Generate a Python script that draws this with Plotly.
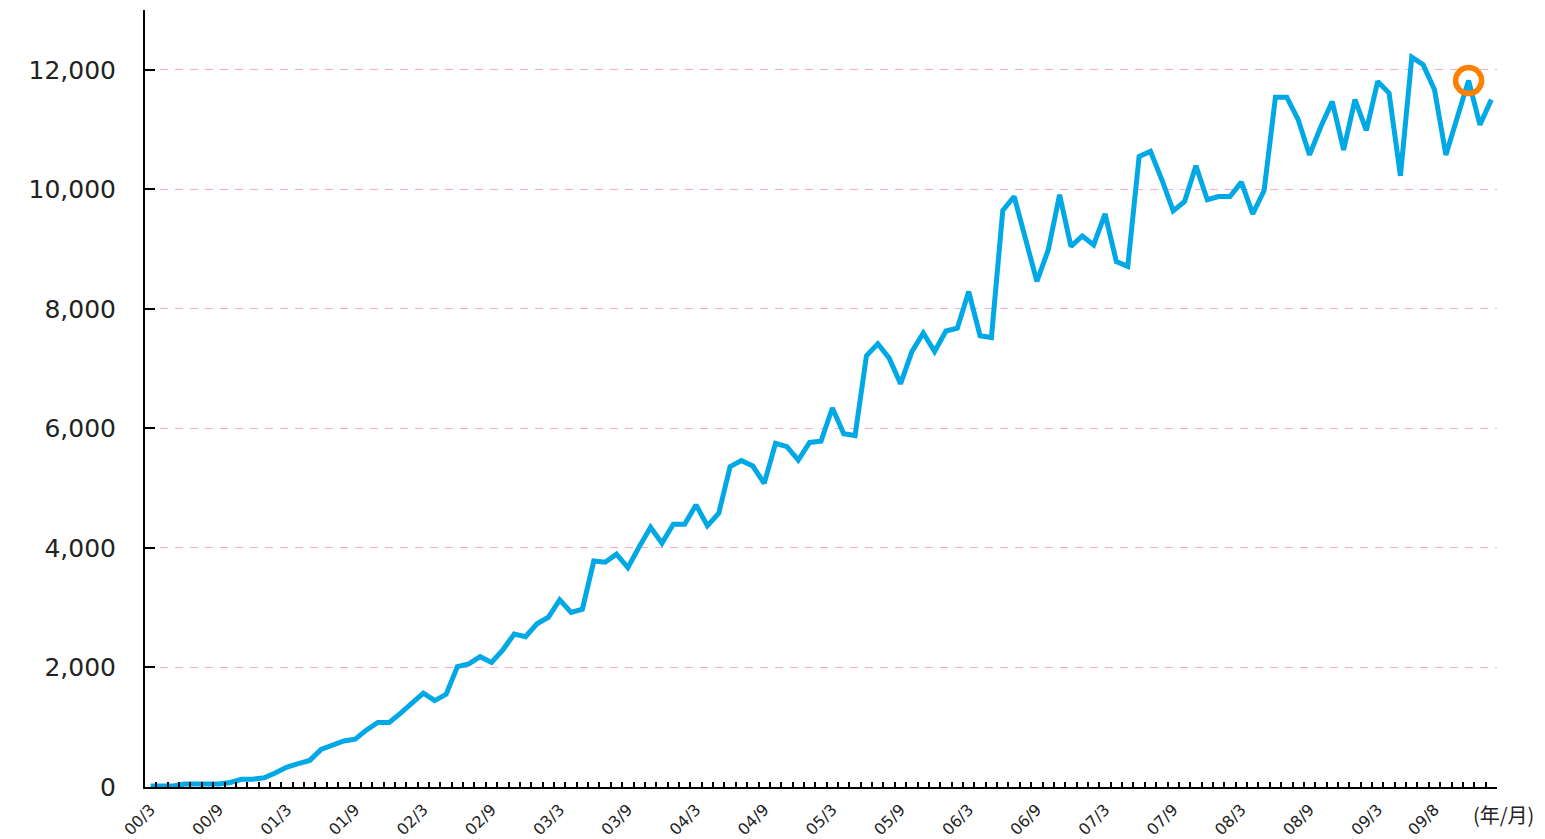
import plotly.graph_objects as go

# Monthly categories 2000/3 .. 2010/1 (labels in "YY/M" form)
months = [f"{(y % 100):02d}/{m}" for y in range(2000, 2011) for m in range(1, 13)]
months = months[months.index("00/3"):months.index("10/1") + 1]

values = [
    15, 15, 17, 50, 50, 50, 50, 75, 130, 130,
    155, 240, 335, 390, 445, 630, 710, 770, 800, 955,
    1080, 1080, 1235, 1410, 1570, 1445, 1550, 2015, 2060, 2180,
    2085, 2295, 2560, 2515, 2730, 2840, 3130, 2920, 2975, 3780,
    3760, 3895, 3670, 4020, 4345, 4080, 4395, 4395, 4720, 4370,
    4580, 5360, 5460, 5370, 5080, 5750, 5695, 5470, 5765, 5785,
    6340, 5910, 5880, 7215, 7415, 7175, 6745, 7285, 7595, 7285,
    7630, 7675, 8290, 7550, 7520, 9645, 9880, 9170, 8460, 8985,
    9910, 9045, 9220, 9070, 9590, 8790, 8710, 10550, 10635, 10160,
    9640, 9795, 10395, 9825, 9880, 9880, 10120, 9590, 9980, 11540,
    11540, 11165, 10575, 11050, 11470, 10660, 11500, 10985, 11805, 11610,
    10225, 12210, 12085, 11665, 10575, 11200, 11820, 11080, 11500,
]

tick_labels = ["00/3", "00/9", "01/3", "01/9", "02/3", "02/9", "03/3", "03/9",
               "04/3", "04/9", "05/3", "05/9", "06/3", "06/9", "07/3", "07/9",
               "08/3", "08/9", "09/3", "09/8"]

highlight_month = "09/11"
highlight_value = values[months.index(highlight_month)]

y_ticks = [0, 2000, 4000, 6000, 8000, 10000, 12000]

fig = go.Figure()
fig.add_trace(go.Scatter(
    x=months, y=values, mode="lines",
    line=dict(color="#00a8e6", width=5),
    hoverinfo="x+y",
))
fig.add_trace(go.Scatter(
    x=[highlight_month], y=[highlight_value], mode="markers",
    marker=dict(symbol="circle-open", size=26, color="#ff8000",
                line=dict(width=5.5, color="#ff8000")),
))

fig.update_layout(
    width=1545, height=839,
    margin=dict(l=145, r=48, t=10, b=52),
    plot_bgcolor="white", paper_bgcolor="white",
    showlegend=False,
    font=dict(family="DejaVu Sans", color="#222222"),
    annotations=[dict(
        text="(年/月)", xref="paper", yref="paper",
        x=0.981, y=-0.036, xanchor="left", yanchor="middle",
        showarrow=False,
        font=dict(family="Noto Sans CJK JP", size=20, color="#222222"),
    )],
)

fig.update_xaxes(
    type="category",
    automargin=False,
    range=[-0.5, len(months) - 0.5],
    tickmode="array",
    tickvals=months,
    ticktext=[m if m in tick_labels else "" for m in months],
    tickson="boundaries",
    ticks="inside", ticklen=5, tickwidth=1.5, tickcolor="black",
    tickangle=-45,
    ticklabelstandoff=5,
    tickfont=dict(family="DejaVu Sans", size=16, color="#222222"),
    showline=True, linecolor="black", linewidth=2,
    showgrid=False, zeroline=False,
)

fig.update_yaxes(
    automargin=False,
    range=[0, 13000],
    tickmode="array", tickvals=y_ticks,
    tickformat=",d",
    ticks="inside", ticklen=10, tickwidth=1.5, tickcolor="black",
    ticklabelstandoff=22,
    tickfont=dict(family="DejaVu Sans", size=25, color="#222222"),
    showline=True, linecolor="black", linewidth=2,
    showgrid=True, gridcolor="#f9a8cc", gridwidth=1.3, griddash="8px,7px",
    zeroline=False,
)

fig.write_html(
    "out.html",
    config={"displayModeBar": False},
    post_script="document.body.style.margin='0';document.body.style.overflow='hidden';",
)
